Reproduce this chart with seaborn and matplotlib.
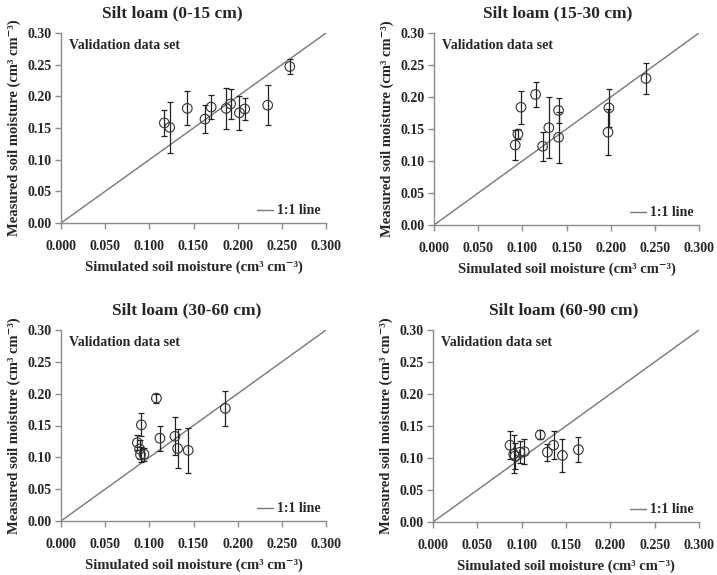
import numpy as np
import pandas as pd
import matplotlib
matplotlib.use("Agg")
import matplotlib.pyplot as plt
import seaborn as sns

# ---- data ----
titles = ["Silt loam (0-15 cm)", "Silt loam (15-30 cm)",
          "Silt loam (30-60 cm)", "Silt loam (60-90 cm)"]

sim_0_15 = [0.117, 0.123, 0.143, 0.163, 0.170, 0.187, 0.192, 0.202, 0.208, 0.234, 0.259]
meas_0_15 = [0.158, 0.151, 0.181, 0.164, 0.183, 0.181, 0.188, 0.174, 0.180, 0.186, 0.247]
err_0_15 = [0.021, 0.040, 0.027, 0.022, 0.019, 0.032, 0.024, 0.027, 0.017, 0.032, 0.012]

sim_15_30 = [0.092, 0.095, 0.0985, 0.115, 0.123, 0.130, 0.141, 0.141, 0.198, 0.197, 0.240]
meas_15_30 = [0.125, 0.142, 0.184, 0.204, 0.123, 0.152, 0.179, 0.137, 0.183, 0.145, 0.229]
err_15_30 = [0.023, 0.008, 0.026, 0.020, 0.023, 0.048, 0.020, 0.040, 0.030, 0.036, 0.024]

sim_30_60 = [0.0865, 0.089, 0.090, 0.094, 0.091, 0.108, 0.112, 0.129, 0.132, 0.144, 0.186]
meas_30_60 = [0.123, 0.113, 0.104, 0.105, 0.151, 0.193, 0.130, 0.133, 0.114, 0.111, 0.177]
err_30_60 = [0.012, 0.015, 0.012, 0.010, 0.018, 0.007, 0.020, 0.030, 0.030, 0.035, 0.027]

sim_60_90 = [0.0868, 0.091, 0.0925, 0.098, 0.103, 0.121, 0.129, 0.136, 0.146, 0.164]
meas_60_90 = [0.120, 0.106, 0.103, 0.109, 0.110, 0.136, 0.109, 0.120, 0.104, 0.113]
err_60_90 = [0.022, 0.030, 0.020, 0.017, 0.020, 0.007, 0.013, 0.022, 0.026, 0.020]

one_to_one = [0.0, 0.3]

sims = [sim_0_15, sim_15_30, sim_30_60, sim_60_90]
meas = [meas_0_15, meas_15_30, meas_30_60, meas_60_90]
errs = [err_0_15, err_15_30, err_30_60, err_60_90]

x_ticks = [0.0, 0.05, 0.10, 0.15, 0.20, 0.25, 0.30]
y_ticks = [0.0, 0.05, 0.10, 0.15, 0.20, 0.25, 0.30]

# ---- plotting ----
sns.set_theme(style="white")
plt.rcParams['font.family'] = ['Liberation Serif', 'DejaVu Serif']
plt.rcParams['font.weight'] = 'bold'

W, H = 717, 575
fig = plt.figure(figsize=(W / 100, H / 100), dpi=100)

# axes boxes in pixels (left, top, right, bottom)
boxes = [(61, 33, 326, 223), (434, 33, 699, 225),
         (61, 330, 326, 521), (433, 330, 699, 522)]
title_cx = [172, 558, 187, 564]

spine_col = "#8c8c8c"
for i, (l, t, r, b) in enumerate(boxes):
    ax = fig.add_axes([l / W, 1 - b / H, (r - l) / W, (b - t) / H])
    df = pd.DataFrame({"sim": sims[i], "meas": meas[i], "err": errs[i]})
    line_df = pd.DataFrame({"x": one_to_one, "y": one_to_one})
    sns.lineplot(data=line_df, x="x", y="y", ax=ax, color="#777777",
                 linewidth=1.0, label="1:1 line")
    ax.errorbar(df["sim"], df["meas"], yerr=df["err"], fmt="none",
                ecolor="#222222", elinewidth=0.9, capsize=2.5, capthick=0.9,
                zorder=3)
    sns.scatterplot(data=df, x="sim", y="meas", ax=ax, marker="o", s=48,
                    color="none", edgecolor="#333333", linewidth=0.8,
                    zorder=4)
    ax.set_xlim(0, 0.3)
    ax.set_ylim(0, 0.3)
    ax.set_xticks(x_ticks)
    ax.set_yticks(y_ticks)
    ax.set_xticklabels([f"{v:.3f}" for v in x_ticks], fontsize=10, fontweight="bold")
    ax.set_yticklabels([f"{v:.2f}" for v in y_ticks], fontsize=10, fontweight="bold")
    for s in ["top", "right"]:
        ax.spines[s].set_visible(False)
    for s in ["left", "bottom"]:
        ax.spines[s].set_color(spine_col)
        ax.spines[s].set_linewidth(1.0)
    ax.tick_params(axis="both", direction="out", length=4, width=1.0,
                   color=spine_col, pad=3, left=True, bottom=True)
    ax.tick_params(axis="x", pad=8)
    ax.set_xlabel("Simulated soil moisture (cm\u00b3 cm\u207b\u00b3)",
                  fontsize=10.5, fontweight="bold", labelpad=6)
    ax.set_ylabel("Measured soil moisture (cm\u00b3 cm\u207b\u00b3)",
                  fontsize=10.5, fontweight="bold", labelpad=4)
    tx = (title_cx[i] - l) / (r - l)
    ax.set_title(titles[i], fontsize=12.5, fontweight="bold", x=tx, pad=11)
    ax.text(0.03, 0.97, "Validation data set", transform=ax.transAxes,
            ha="left", va="top", fontsize=10, fontweight="bold")
    leg = ax.legend(loc="lower right", bbox_to_anchor=(1.0, 0.0), frameon=False,
                    fontsize=10, handlelength=1.1, handletextpad=0.3,
                    borderaxespad=0.2, borderpad=0.2)
    for txt in leg.get_texts():
        txt.set_fontweight("bold")
    ax.grid(False)

fig.savefig("out.png", dpi=100)
